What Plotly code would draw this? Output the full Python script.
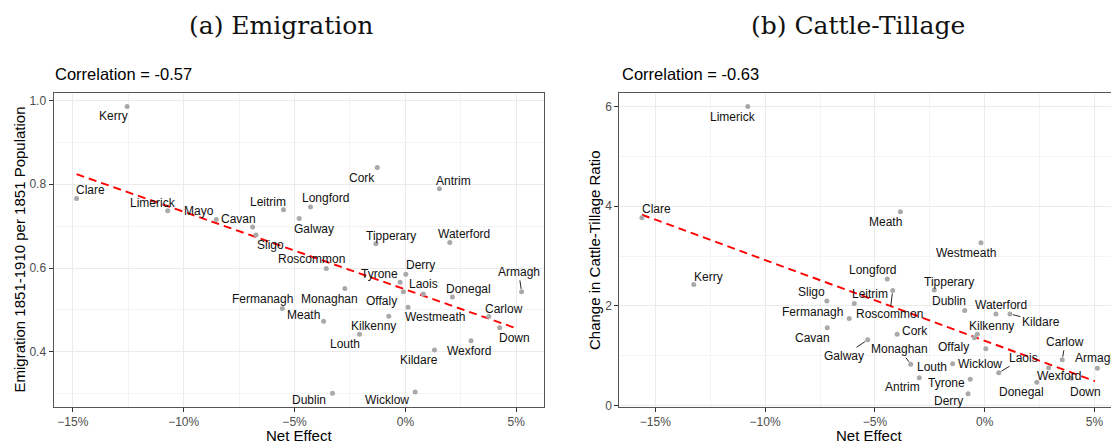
import plotly.graph_objects as go

# ---------------- data ----------------
counties_a = ["Kerry", "Clare", "Limerick", "Mayo", "Cavan", "Sligo", "Leitrim", "Longford",
              "Galway", "Cork", "Antrim", "Tipperary", "Waterford", "Roscommon", "Derry", "Tyrone",
              "Offaly", "Laois", "Westmeath", "Kilkenny", "Monaghan", "Fermanagh", "Meath", "Louth",
              "Kildare", "Wexford", "Donegal", "Carlow", "Down", "Armagh", "Dublin", "Wicklow"]
net_effect_a = [-12.55, -14.83, -10.72, -8.53, -6.89, -6.74, -5.50, -4.28,
                -4.79, -1.27, 1.53, -1.33, 2.00, -3.57, 0.02, -0.24,
                -0.09, 0.81, 0.12, -0.75, -2.73, -5.55, -3.69, -2.07,
                1.31, 2.96, 2.12, 3.76, 4.25, 5.24, -3.29, 0.44]
emigration = [0.986, 0.766, 0.737, 0.716, 0.698, 0.679, 0.739, 0.746,
              0.718, 0.840, 0.789, 0.658, 0.661, 0.599, 0.585, 0.566,
              0.543, 0.538, 0.506, 0.485, 0.551, 0.503, 0.473, 0.442,
              0.404, 0.426, 0.531, 0.484, 0.457, 0.543, 0.301, 0.304]
trend_a_x = [-14.83, 5.0]
trend_a_y = [0.824, 0.456]
corr_a = -0.57

counties_b = ["Limerick", "Clare", "Meath", "Westmeath", "Kerry", "Sligo", "Cavan", "Longford",
              "Roscommon", "Leitrim", "Fermanagh", "Tipperary", "Dublin", "Waterford", "Kildare",
              "Kilkenny", "Offaly", "Cork", "Wicklow", "Galway", "Monaghan", "Louth", "Laois",
              "Carlow", "Armagh", "Wexford", "Down", "Donegal", "Antrim", "Tyrone", "Derry"]
net_effect_b = [-10.79, -15.61, -3.84, -0.17, -13.25, -7.19, -7.17, -4.44,
                -4.19, -5.94, -6.17, -2.30, -0.91, 0.51, 1.15,
                -0.34, -0.47, -3.99, 0.05, -5.33, -3.37, -1.46, 0.64,
                3.53, 5.13, 2.91, 3.94, 2.37, -2.98, -0.66, -0.76]
cattle_tillage = [6.00, 3.77, 3.89, 3.27, 2.43, 2.10, 1.56, 2.54,
                  2.31, 2.05, 1.75, 2.32, 1.91, 1.84, 1.84,
                  1.43, 1.36, 1.43, 1.14, 1.32, 0.83, 0.84, 0.66,
                  0.92, 0.75, 0.76, 0.55, 0.47, 0.56, 0.53, 0.24]
trend_b_x = [-15.61, 5.02]
trend_b_y = [3.83, 0.49]
corr_b = -0.63

# ---------------- label placement (pixel offsets: dx right, dy down, leader) ----------------
offsets_a = {
    "Kerry": (-14, 10, False), "Clare": (14, -9, False), "Limerick": (-15, -8, False),
    "Mayo": (-17, -8, False), "Cavan": (-14, -8, False), "Sligo": (15, 10, False),
    "Leitrim": (-15, -8, False), "Longford": (15, -9, False), "Galway": (15, 10, False),
    "Cork": (-15, 10, False), "Antrim": (14, -8, False), "Tipperary": (15, -8, False),
    "Waterford": (14, -8, False), "Roscommon": (-15, -9, False), "Derry": (15, -9, False),
    "Tyrone": (-21, -8, False), "Offaly": (-22, 9, False), "Laois": (0, -10, False),
    "Westmeath": (27, 10, False), "Kilkenny": (-15, 10, False), "Monaghan": (-15, 10, False),
    "Fermanagh": (-20, -10, False), "Meath": (-20, -6, False), "Louth": (-15, 10, False),
    "Kildare": (-15, 10, False), "Wexford": (-2, 10, False), "Donegal": (16, -8, False),
    "Carlow": (15, -8, False), "Down": (15, 10, False), "Armagh": (-3, -20, True),
    "Dublin": (-23, 7, False), "Wicklow": (-28, 8, False),
}
offsets_b = {
    "Limerick": (-15, 10, False), "Clare": (15, -9, False), "Meath": (-15, 10, False),
    "Westmeath": (-15, 10, False), "Kerry": (15, -8, False), "Sligo": (-15, -9, False),
    "Cavan": (-15, 10, False), "Longford": (-15, -9, False), "Roscommon": (-3, 24, True),
    "Leitrim": (16, -9, False), "Fermanagh": (-37, -6, False), "Tipperary": (15, -8, False),
    "Dublin": (-16, -9, False), "Waterford": (5, -9, False), "Kildare": (31, 8, True),
    "Kilkenny": (14, -8, False), "Offaly": (-21, 9, False), "Cork": (18, -3, False),
    "Wicklow": (-6, 15, False), "Galway": (-24, 16, True), "Monaghan": (-11, -15, True),
    "Louth": (-21, 3, False), "Laois": (25, -15, True), "Carlow": (3, -18, True),
    "Armagh": (-1, -10, False), "Wexford": (10, 8, False), "Down": (14, 14, False),
    "Donegal": (-15, 10, False), "Antrim": (-17, 9, False), "Tyrone": (-24, 4, False),
    "Derry": (-20, 7, False),
}

W, H = 1111, 443
FONT = "Liberation Sans, Arial, sans-serif"
POINT_COLOR = "#a9a9a9"
GRID = "#ebebeb"
GRID_MINOR = "#f4f4f4"
BORDER = "#555555"
TICKFONT = dict(family=FONT, size=12, color="#4d4d4d")

# plot areas in pixels
A_L, A_R = 53.5, 544
B_L, B_R = 619.3, 1111
P_T, P_B = 93, 407

fig = go.Figure()

fig.add_trace(go.Scatter(x=trend_a_x, y=trend_a_y, mode="lines",
                         line=dict(color="#ff0000", width=1.9, dash="8px,5px"),
                         xaxis="x", yaxis="y", hoverinfo="skip", showlegend=False))
fig.add_trace(go.Scatter(x=net_effect_a, y=emigration, mode="markers", text=counties_a,
                         marker=dict(color=POINT_COLOR, size=5),
                         xaxis="x", yaxis="y", showlegend=False))
fig.add_trace(go.Scatter(x=trend_b_x, y=trend_b_y, mode="lines",
                         line=dict(color="#ff0000", width=1.9, dash="8px,5px"),
                         xaxis="x2", yaxis="y2", hoverinfo="skip", showlegend=False))
fig.add_trace(go.Scatter(x=net_effect_b, y=cattle_tillage, mode="markers", text=counties_b,
                         marker=dict(color=POINT_COLOR, size=5),
                         xaxis="x2", yaxis="y2", showlegend=False))

annotations = []


def add_labels(names, xs, ys, offsets, xref, yref):
    for n, x, y in zip(names, xs, ys):
        dx, dy, leader = offsets[n]
        common = dict(x=x, y=y, xref=xref, yref=yref, text=n,
                      font=dict(family=FONT, size=12, color="#111111"))
        if leader:
            annotations.append(dict(**common, showarrow=True, ax=dx, ay=dy,
                                    arrowhead=0, arrowwidth=0.9, arrowcolor="#111111",
                                    standoff=3))
        else:
            annotations.append(dict(**common, showarrow=False, xshift=dx, yshift=-dy))


add_labels(counties_a, net_effect_a, emigration, offsets_a, "x", "y")
add_labels(counties_b, net_effect_b, cattle_tillage, offsets_b, "x2", "y2")


def px(v):
    return v / W


def py(v):
    return 1 - v / H


# titles
annotations.append(dict(text="(a) Emigration", x=px(281), y=py(25), xref="paper", yref="paper",
                        showarrow=False, xanchor="center", yanchor="middle",
                        font=dict(family="DejaVu Serif, serif", size=25, color="#111111")))
annotations.append(dict(text="(b) Cattle-Tillage", x=px(858), y=py(25), xref="paper", yref="paper",
                        showarrow=False, xanchor="center", yanchor="middle",
                        font=dict(family="DejaVu Serif, serif", size=25, color="#111111")))
# correlation subtitles
annotations.append(dict(text=f"Correlation = {corr_a:.2f}", x=px(A_L - 1), y=py(74), xref="paper",
                        yref="paper", showarrow=False, xanchor="left", yanchor="middle",
                        font=dict(family=FONT, size=16.5, color="#000000")))
annotations.append(dict(text=f"Correlation = {corr_b:.2f}", x=px(B_L + 1), y=py(74), xref="paper",
                        yref="paper", showarrow=False, xanchor="left", yanchor="middle",
                        font=dict(family=FONT, size=16.5, color="#000000")))
# axis titles
annotations.append(dict(text="Net Effect", x=px((A_L + A_R) / 2), y=py(435.5), xref="paper", yref="paper",
                        showarrow=False, xanchor="center", yanchor="middle",
                        font=dict(family=FONT, size=15, color="#000000")))
annotations.append(dict(text="Net Effect", x=px(869), y=py(435.5), xref="paper",
                        yref="paper", showarrow=False, xanchor="center", yanchor="middle",
                        font=dict(family=FONT, size=15, color="#000000")))
annotations.append(dict(text="Emigration 1851-1910 per 1851 Population", x=px(18.5), y=py((P_T + P_B) / 2),
                        xref="paper", yref="paper", showarrow=False, textangle=-90,
                        xanchor="center", yanchor="middle",
                        font=dict(family=FONT, size=15, color="#000000")))
annotations.append(dict(text="Change in Cattle-Tillage Ratio", x=px(594), y=py((P_T + P_B) / 2),
                        xref="paper", yref="paper", showarrow=False, textangle=-90,
                        xanchor="center", yanchor="middle",
                        font=dict(family=FONT, size=15, color="#000000")))


def xaxis(dom, rng, anchor):
    return dict(domain=dom, range=rng, anchor=anchor, tick0=0, dtick=5, ticksuffix="%",
                automargin=False,
                showgrid=True, gridcolor=GRID, gridwidth=1, zeroline=False,
                showline=True, linecolor=BORDER, linewidth=1, mirror=True,
                ticks="outside", ticklen=4, tickcolor="#333333", tickfont=TICKFONT,
                minor=dict(tick0=0, dtick=2.5, showgrid=True, gridcolor=GRID_MINOR, gridwidth=1),
                fixedrange=True)


def yaxis(dom, rng, anchor, dtick, fmt):
    return dict(domain=dom, range=rng, anchor=anchor, tick0=0, dtick=dtick, tickformat=fmt,
                automargin=False,
                showgrid=True, gridcolor=GRID, gridwidth=1, zeroline=False,
                showline=True, linecolor=BORDER, linewidth=1, mirror=True,
                ticks="outside", ticklen=4, tickcolor="#333333", tickfont=TICKFONT,
                minor=dict(tick0=0, dtick=dtick / 2, showgrid=True, gridcolor=GRID_MINOR, gridwidth=1),
                fixedrange=True)


ydom = [1 - P_B / H, 1 - P_T / H]
fig.update_layout(
    template="none",
    width=W, height=H, margin=dict(l=0, r=0, t=0, b=0, pad=0, autoexpand=False),
    paper_bgcolor="white", plot_bgcolor="white",
    xaxis=xaxis([px(A_L), px(A_R)], [-15.87, 6.25], "y"),
    yaxis=yaxis(ydom, [0.268, 1.018], "x", 0.2, ".1f"),
    xaxis2=xaxis([px(B_L), 1.0], [-16.64, 5.75], "y2"),
    yaxis2=yaxis(ydom, [-0.028, 6.273], "x2", 2, "d"),
    annotations=annotations,
    showlegend=False,
)

fig.write_html("out.html", config={"displayModeBar": False},
               post_script=("document.documentElement.style.margin='0';"
                            "document.documentElement.style.overflow='hidden';"
                            "document.body.style.margin='0';"
                            "document.body.style.overflow='hidden';"))
